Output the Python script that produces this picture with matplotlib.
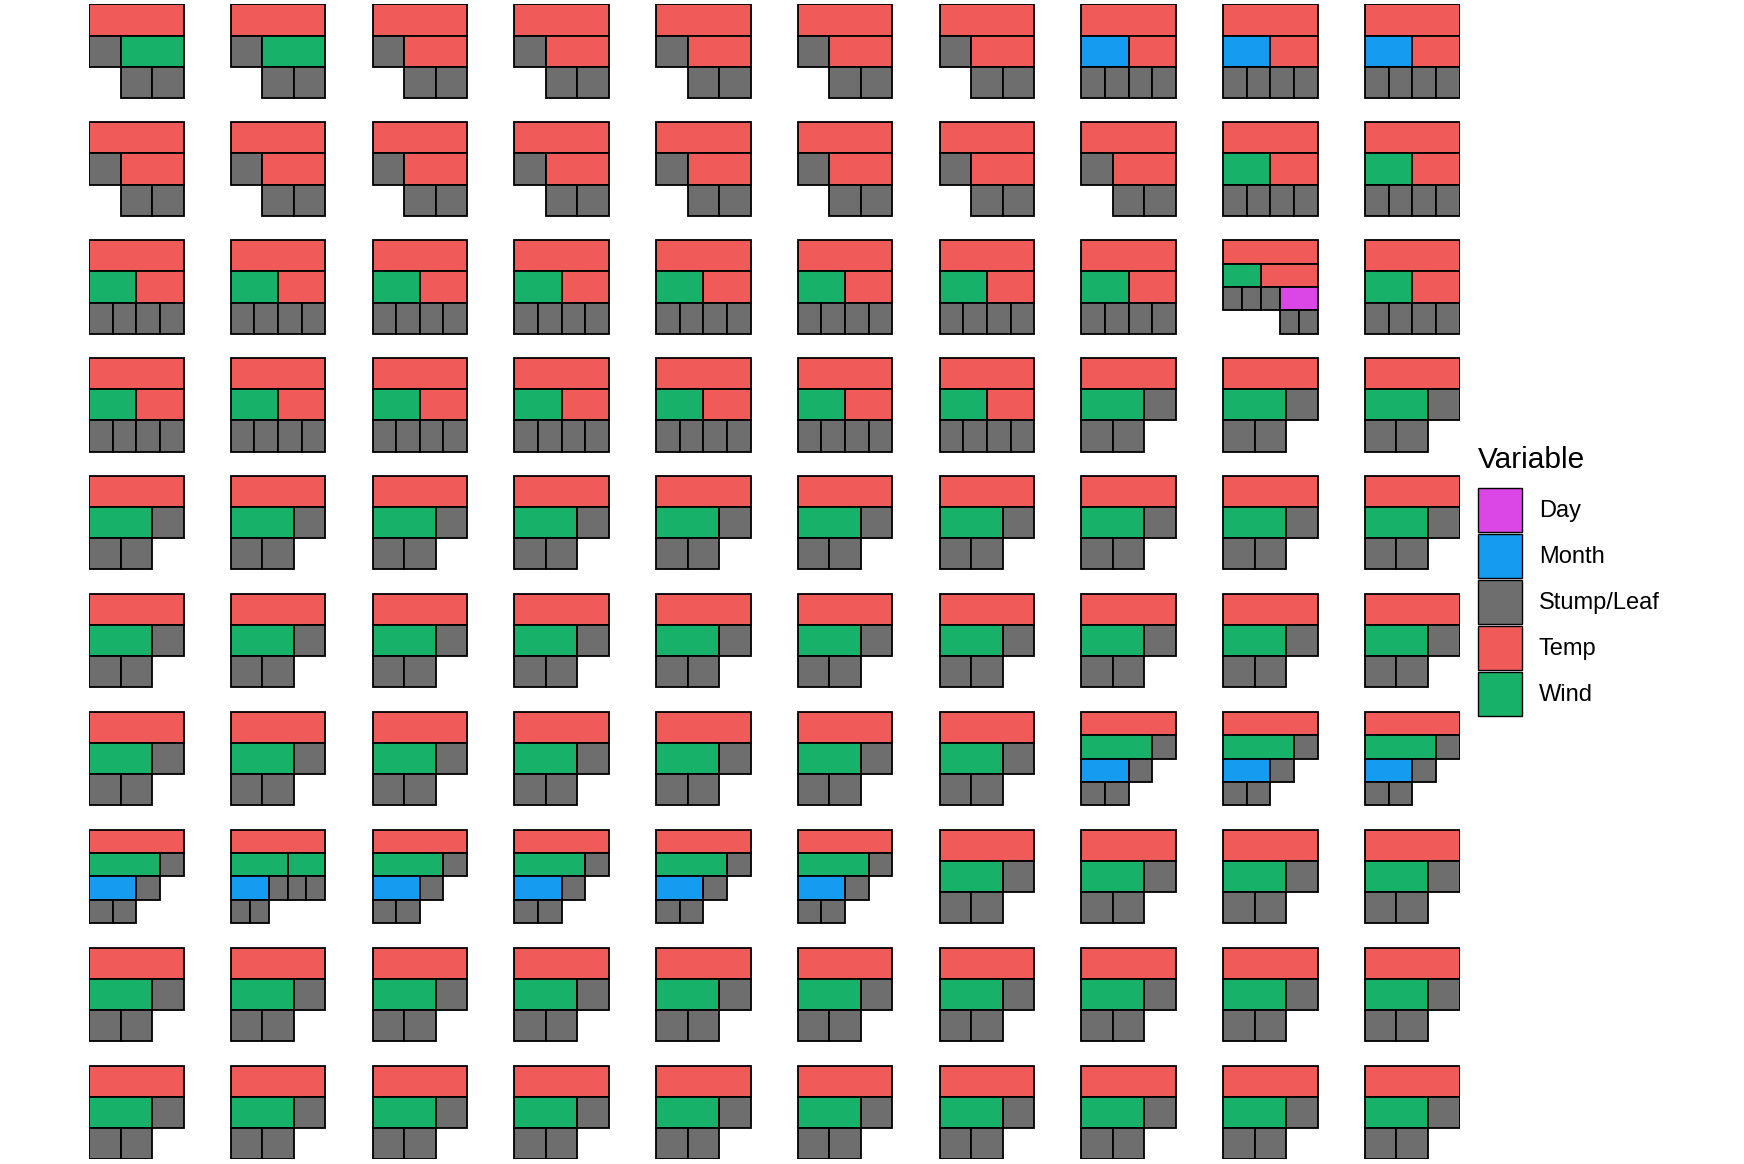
import matplotlib
matplotlib.use("Agg")
import matplotlib.pyplot as plt
from matplotlib.patches import Patch

plt.rcParams['font.family'] = ['Liberation Sans', 'DejaVu Sans']

# tree shapes, written as Variable(children...), L = stump/leaf
t_a = "T(L,W(L,L))"
t_b = "T(L,T(L,L))"
t_c = "T(M(L,L),T(L,L))"
t_d = "T(W(L,L),T(L,L))"
t_e = "T(W(L,L),T(L,D(L,L)))"
t_f = "T(W(L,L),L)"
t_g = "T(W(M(L,L),L),L)"
t_h = "T(W(M(L,L),L),W(L,L))"

grid_rows = [
    [t_a, t_a, t_b, t_b, t_b, t_b, t_b, t_c, t_c, t_c],
    [t_b, t_b, t_b, t_b, t_b, t_b, t_b, t_b, t_d, t_d],
    [t_d, t_d, t_d, t_d, t_d, t_d, t_d, t_d, t_e, t_d],
    [t_d, t_d, t_d, t_d, t_d, t_d, t_d, t_f, t_f, t_f],
    [t_f] * 10,
    [t_f] * 10,
    [t_f, t_f, t_f, t_f, t_f, t_f, t_f, t_g, t_g, t_g],
    [t_g, t_h, t_g, t_g, t_g, t_g, t_f, t_f, t_f, t_f],
    [t_f] * 10,
    [t_f] * 10,
]

codes = {'T': 'Temp', 'W': 'Wind', 'M': 'Month', 'D': 'Day', 'L': 'Stump/Leaf'}
variables = ['Day', 'Month', 'Stump/Leaf', 'Temp', 'Wind']
colors = {'Day': '#DB46E7', 'Month': '#159CF0', 'Stump/Leaf': '#6E6E6E',
          'Temp': '#F05B59', 'Wind': '#18B16A'}


def parse(s, i=0):
    # returns (node, next index); node = (name, [children])
    name = s[i]
    i += 1
    kids = []
    if i < len(s) and s[i] == '(':
        i += 1
        while True:
            k, i = parse(s, i)
            kids.append(k)
            if s[i] == ',':
                i += 1
            else:
                i += 1  # ')'
                break
    return (name, kids), i


def n_leaves(node):
    return 1 if not node[1] else sum(n_leaves(k) for k in node[1])


def depth(node):
    return 1 if not node[1] else 1 + max(depth(k) for k in node[1])


def layout(node, x0, lev, out):
    out.append((codes[node[0]], x0, n_leaves(node), lev))
    x = x0
    for k in node[1]:
        layout(k, x, lev + 1, out)
        x += n_leaves(k)
    return out


W, H = 0.667, 0.793  # glyph size in grid units

fig = plt.figure(figsize=(17.44, 11.64), dpi=100)
ax = fig.add_axes([89 / 1744, 5 / 1164, 1370.5 / 1744, 1154.6 / 1164])

for r, row in enumerate(grid_rows):
    for c, code in enumerate(row):
        tree, _ = parse(code)
        n = n_leaves(tree)
        d = depth(tree)
        for var, x0, nl, lev in layout(tree, 0, 0, []):
            ax.bar(c + x0 * W / n, H / d, nl * W / n, bottom=r + lev * H / d,
                   align='edge', color=colors[var], edgecolor='black',
                   linewidth=1.3)

ax.set_xlim(0, 9 + W)
ax.set_ylim(9 + H, 0)
ax.axis('off')

# legend
fig.text(1478 / 1744, 1 - 460 / 1164, 'Variable', fontsize=21.5, va='center', ha='left')
handles = [Patch(facecolor=colors[v], edgecolor='black', linewidth=1.0) for v in variables]
leg = fig.legend(handles, variables, loc='upper left',
                 bbox_to_anchor=(1478 / 1744, 1 - 488 / 1164),
                 frameon=False, fontsize=17,
                 handlelength=1.88, handleheight=2.52, labelspacing=0.06,
                 handletextpad=0.7, borderpad=0, borderaxespad=0)

fig.savefig('out.png', dpi=100)
